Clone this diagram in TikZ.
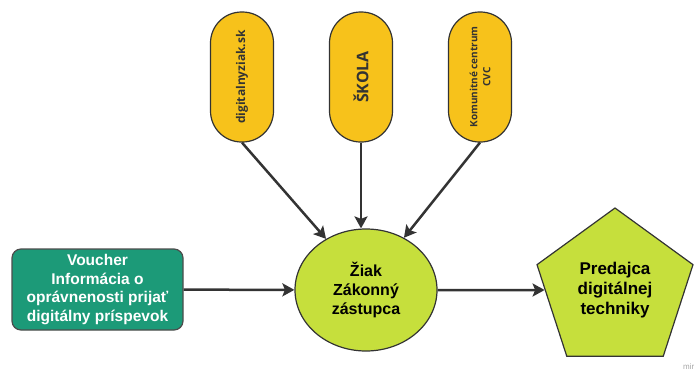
\documentclass[tikz,border=0pt]{standalone}
\usepackage{fontspec}
\setmainfont{Liberation Sans}
\newfontfamily\pillfont{Open Sans}
\usetikzlibrary{arrows.meta,shapes.geometric}
\definecolor{pillY}{HTML}{F7C21B}
\definecolor{lime}{HTML}{C6DF3C}
\definecolor{teal}{HTML}{1C9A78}
\definecolor{edge}{HTML}{333333}
\begin{document}
\begin{tikzpicture}[x=1pt,y=-1pt,
  pill/.style={draw=edge,line width=1.2pt,fill=pillY,rotate=90,minimum width=130pt,minimum height=63pt,rounded corners=31pt,inner sep=2pt,align=center,text=edge},
  arr/.style={draw=edge,line width=2.5pt,-{Stealth[length=12pt,width=13pt,inset=2.5pt]}},
  hub/.style={ellipse,draw=edge,line width=1.2pt,fill=lime,minimum width=142pt,minimum height=122pt,inner sep=0pt,align=center,font=\fontsize{16}{19}\selectfont\bfseries},
  pent/.style={regular polygon,regular polygon sides=5,draw=edge,line width=1.2pt,fill=lime,minimum size=164pt,inner sep=0pt,align=center,font=\fontsize{17}{20}\selectfont\bfseries},
  vbox/.style={draw=black!70,line width=1.2pt,fill=teal,rounded corners=9pt,minimum width=171pt,minimum height=81pt,inner sep=0pt,align=center,text=white,font=\fontsize{15.5}{18.5}\selectfont\bfseries}]
\useasboundingbox (0,0) rectangle (700,372);
\node[pill,font=\pillfont\fontsize{12}{14}\selectfont\bfseries] (p1) at (242,77) {digitalnyziak.sk};
\node[pill,font=\pillfont\fontsize{16}{18}\selectfont\bfseries] (p2) at (361,77) {ŠKOLA};
\node[pill,font=\pillfont\fontsize{10}{13}\selectfont\bfseries] (p3) at (480,77) {Komunitné centrum\\CVC};
\node[hub] (c) at (366,290) {Žiak\\Zákonný\\zástupca};
\node[pent] (v) at (615,290) {Predajca\\digitálnej\\techniky};
\node[vbox] (r) at (97.5,289.5) {Voucher\\Informácia o\\oprávnenosti prijať\\digitálny príspevok};
\node[text=black!35,font=\fontsize{8}{9}\selectfont,anchor=west,inner sep=0pt] (wm) at (683,367) {mir};
\draw[arr] (p1.west) -- (c.128);
\draw[arr] (p2.west) -- (p2.west |- c.north);
\draw[arr] (p3.west) -- (c.54);
\draw[arr] (r) -- (c);
\draw[arr] (c) -- (v);
\end{tikzpicture}
\end{document}
